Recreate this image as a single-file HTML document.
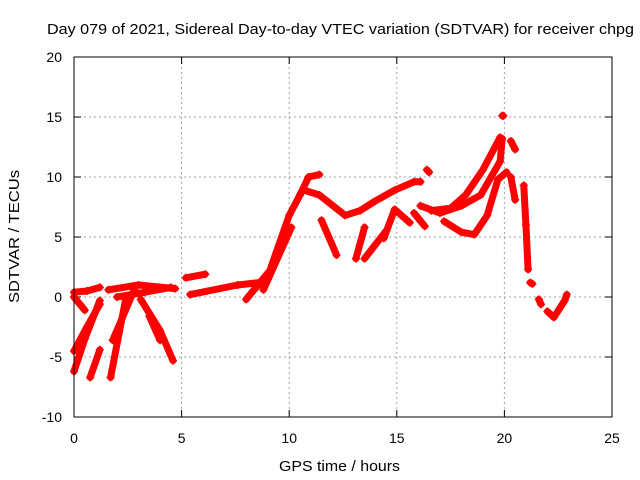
<!DOCTYPE html>
<html><head><meta charset="utf-8"><style>
body{margin:0;background:#fff;}
svg{display:block;font-family:"Liberation Sans",sans-serif;}
</style></head><body>
<svg id="chart" width="640" height="480">
<rect width="640" height="480" fill="#fff"/>
<text x="47" y="34" font-size="15" textLength="587" lengthAdjust="spacingAndGlyphs">Day 079 of 2021, Sidereal Day-to-day VTEC variation (SDTVAR) for receiver chpg</text>
<g id="grid"></g>
<g id="ticks" font-size="14"></g>
<g id="series"></g>
<rect x="74" y="57" width="538" height="360" fill="none" stroke="#000" stroke-width="1"/>
<text x="279" y="471" font-size="15" textLength="121" lengthAdjust="spacingAndGlyphs">GPS time / hours</text>
<text x="0" y="0" font-size="15" textLength="133" lengthAdjust="spacingAndGlyphs" transform="translate(19,303) rotate(-90)">SDTVAR / TECUs</text>
</svg>
<script>
const xTicks=[0,5,10,15,20,25];
const yTicks=[-10,-5,0,5,10,15,20];
const traces=[
 [[0,-6.2],[0.5,-3.5],[1.2,-0.3]],
 [[0,-4.5],[0.6,-2.5],[1.2,-0.6]],
 [[0.75,-6.7],[1.2,-4.4]],
 [[0,0.4],[0.6,0.5],[1.2,0.8]],
 [[0,0],[0.5,-1.1]],
 [[1.7,-6.7],[2.4,-0.2]],
 [[1.8,-3.6],[2.8,0.6]],
 [[1.6,0.6],[3,1],[4.7,0.7]],
 [[2,0],[3.3,0.4],[4.5,0.8]],
 [[3.1,-0.2],[4,-2.8],[4.6,-5.3]],
 [[3.5,-1.6],[4,-3.6]],
 [[5.2,1.6],[6.1,1.9]],
 [[5.4,0.2],[7.6,1],[8.6,1.2]],
 [[8,-0.2],[9.1,2.2],[10,6.8],[10.5,8.5]],
 [[8.8,0.6],[10.1,5.8]],
 [[10.5,8.5],[10.9,10],[11.4,10.2]],
 [[10.7,8.9],[11.4,8.5],[12.6,6.8],[13.3,7.2],[14,8],[14.9,8.9],[15.8,9.6],[16.1,9.6]],
 [[11.5,6.4],[12.2,3.5]],
 [[13.1,3.2],[13.5,5.8]],
 [[13.5,3.2],[14.5,5.5]],
 [[14.4,4.9],[14.9,7.3],[15.6,6.2]],
 [[15.8,7],[16.3,5.9]],
 [[16.1,7.6],[17,7],[18,7.6],[18.9,8.5],[19.8,11.3],[19.9,13.2]],
 [[16.6,7.2],[17.5,7.4],[18.2,8.5],[19,10.6],[19.8,13.3]],
 [[17.2,6.3],[18,5.4],[18.6,5.2],[19.2,6.8],[19.7,9.8],[20.1,10.4]],
 [[16.4,10.6],[16.5,10.4]],
 [[19.9,15.1],[19.95,15.1]],
 [[20.3,13],[20.5,12.3]],
 [[20.3,10],[20.5,8.1]],
 [[20.9,9.3],[21.0,6],[21.1,2.3]],
 [[21.2,1.2],[21.3,1.1]],
 [[21.6,-0.2],[21.7,-0.6]],
 [[22.0,-1.2],[22.3,-1.7],[22.8,-0.3],[22.9,0.2]]
];
const X=h=>74+h*21.52, Y=v=>297-v*12;
const NS="http://www.w3.org/2000/svg";
const grid=document.getElementById('grid'),tk=document.getElementById('ticks'),ser=document.getElementById('series');
function mk(tag,attrs,parent){const e=document.createElementNS(NS,tag);for(const k in attrs)e.setAttribute(k,attrs[k]);parent.appendChild(e);return e;}
xTicks.forEach(t=>{
 if(t>0&&t<25){const g=mk('line',{x1:X(t),x2:X(t),y1:57,y2:417,stroke:'#a0a0a0','stroke-dasharray':'2,3'},grid);
 
 }
 mk('line',{x1:X(t),x2:X(t),y1:417,y2:410,stroke:'#000'},tk);
 mk('line',{x1:X(t),x2:X(t),y1:57,y2:64,stroke:'#000'},tk);
 const l=mk('text',{x:X(t),y:443,'text-anchor':'middle'},tk);l.textContent=t;
 
 
});
yTicks.forEach(t=>{
 if(t>-10&&t<20){const g=mk('line',{x1:74,x2:612,y1:Y(t),y2:Y(t),stroke:'#a0a0a0','stroke-dasharray':'2,3'},grid);
 
 }
 mk('line',{x1:74,x2:81,y1:Y(t),y2:Y(t),stroke:'#000'},tk);
 mk('line',{x1:612,x2:605,y1:Y(t),y2:Y(t),stroke:'#000'},tk);
 const l=mk('text',{x:62,y:Y(t)+5,'text-anchor':'end'},tk);l.textContent=t;
 
 
});
traces.forEach(tr=>{
 const p=mk('polyline',{points:tr.map(d=>X(d[0])+','+Y(d[1])).join(' '),fill:'none',stroke:'#f00','stroke-width':7,'stroke-linecap':'round','stroke-linejoin':'round'},ser);
 
 
 tr.forEach(d=>{
  const c=mk('path',{d:`M${X(d[0])-4},${Y(d[1])}h8M${X(d[0])},${Y(d[1])-4}v8`,stroke:'#f00','stroke-width':1.5},ser);
  
  
 });
});
</script>
</body></html>
